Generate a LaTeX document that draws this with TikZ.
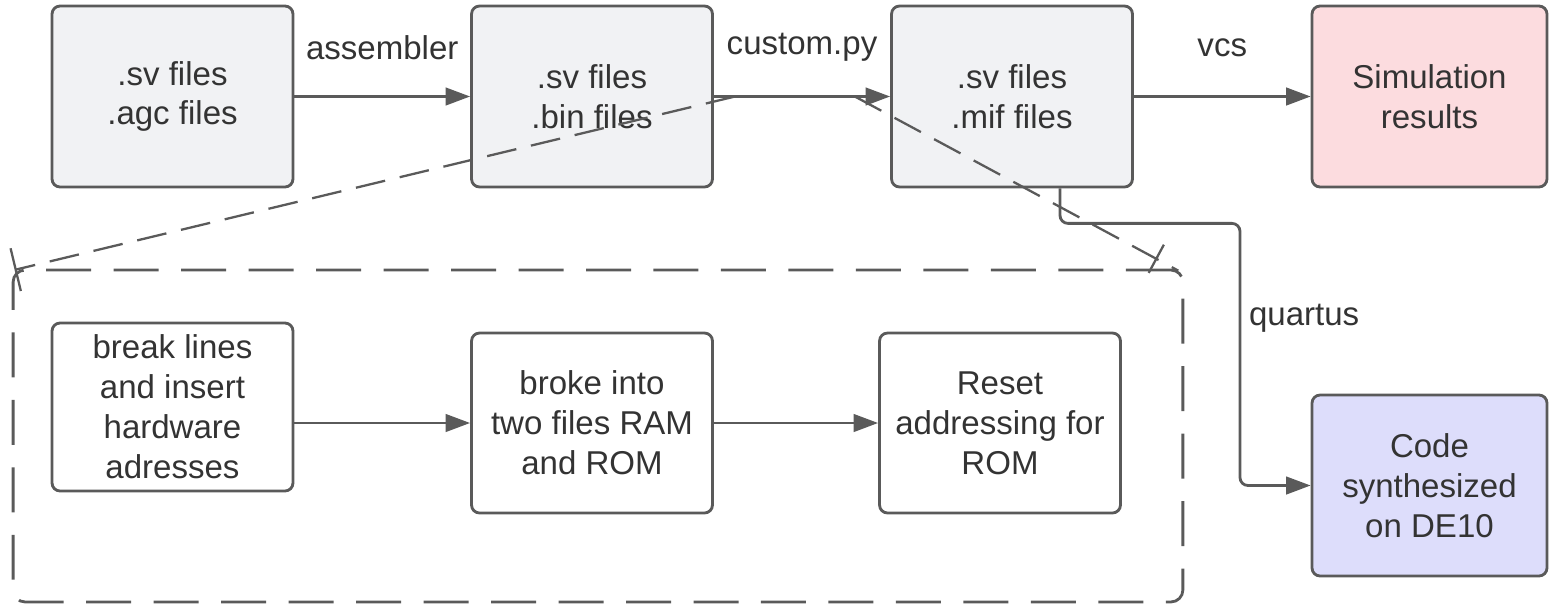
\documentclass[tikz,border=0pt]{standalone}
\usepackage{fontspec}
\setmainfont{Liberation Sans}
\usetikzlibrary{arrows.meta,calc}

\definecolor{LineGray}{HTML}{5A5A5A}
\definecolor{TextGray}{HTML}{333333}
\definecolor{BoxGray}{HTML}{F1F2F4}
\definecolor{SimPink}{HTML}{FCDCDF}
\definecolor{SynBlue}{HTML}{DDDDFB}

\begin{document}
\begin{tikzpicture}[
        %Environment config
        x=0.02cm, y=-0.02cm,
        font=\fontsize{18.8}{22.7}\selectfont,
        line width=1.6pt,
        text=TextGray,
        %Environment styles
        FileBox/.style={
            draw=LineGray,
            fill=BoxGray,
            rounded corners=0.16cm,
            minimum width=4.82cm,
            minimum height=3.62cm,
            align=center
        },
        StepBox/.style={
            FileBox,
            fill=white,
            minimum height=3.6cm
        },
        Flow/.style={
            draw=LineGray,
            -{Triangle[length=14pt,width=10pt]}
        },
        ZoomLine/.style={
            draw=LineGray,
            line width=1.3pt,
            dash pattern=on 0.6cm off 0.3cm
        }
    ]
    \useasboundingbox (0,0) rectangle (1549,606);

    %top row: file stages
    \path
        (172.5,96.5) node[FileBox](src){.sv files\\.agc files}
        (592,96.5) node[FileBox](bin){.sv files\\.bin files}
        (1012,96.5) node[FileBox](mif){.sv files\\.mif files}
        (1429.5,96.5) node[FileBox,fill=SimPink,minimum width=4.7cm](sim){Simulation\\results}
        (1429.5,485.5) node[FileBox,fill=SynBlue,minimum width=4.7cm](syn){Code\\synthesized\\on DE10};

    %detail of custom.py
    \node[draw=LineGray, rounded corners=0.24cm, dash pattern=on 0.9cm off 0.45cm,
        minimum width=23.4cm, minimum height=6.64cm] (detail) at (598,436) {};
    \path
        (172.5,407) node[StepBox,minimum height=3.36cm](brk){break lines\\and insert\\hardware\\adresses}
        (592,423) node[StepBox](split){broke into\\two files RAM\\and ROM}
        (1000,423) node[StepBox](reset){Reset\\addressing for\\ROM};

    \draw[Flow] (src) -- node[midway,yshift=0.98cm]{assembler} (bin);
    \draw[Flow] (bin) -- node[midway,yshift=0.98cm]{custom.py} (mif);
    \draw[Flow] (mif) -- node[midway,yshift=0.98cm]{vcs} (sim);
    \draw[Flow, rounded corners=0.16cm]
        ([xshift=0.96cm]mif.south) |- ++(180,35)
            |- (syn.west) node[pos=0.18,anchor=west,xshift=1pt]{quartus};
    \draw[Flow] (split.west -| brk.east) -- (split.west);
    \draw[Flow] (split) -- (reset);

    %zoom lines
    \coordinate (zl) at ($(bin.east)!0.12!(mif.west)$);
    \coordinate (zr) at ($(bin.east)!0.8!(mif.west)$);
    \coordinate (zlend) at ([shift={(4,1)}]detail.north west);
    \coordinate (zrend) at ([shift={(-6,2)}]detail.north east);
    \coordinate (zrx) at ($(zrend)!0.5cm!(zr)$);
    \draw[ZoomLine] (zl) -- (zlend);
    \draw[ZoomLine] (zr) -- (zrend);
    \draw[LineGray, line width=1.3pt]
        ($(zlend)!0.44cm!90:(zl)$) -- ($(zlend)!0.44cm!-90:(zl)$)
        ($(zrx)!0.32cm!90:(zr)$) -- ($(zrx)!0.32cm!-90:(zr)$);
\end{tikzpicture}
\end{document}
